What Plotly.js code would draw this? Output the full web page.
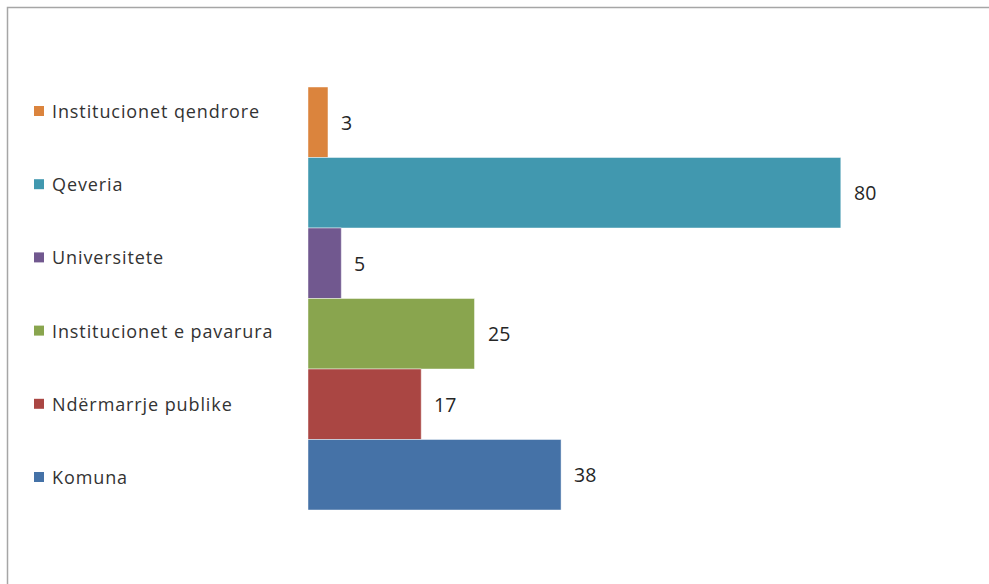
<!DOCTYPE html>
<html>
<head>
<meta charset="utf-8">
<script src="https://cdn.plot.ly/plotly-3.0.1.min.js"></script>
<style>html,body{margin:0;padding:0;background:#fff;}#chart{width:989px;height:584px;}</style>
</head>
<body>
<div id="chart"></div>
<script>
// Data (top to bottom as in the chart)
const categories = ["Institucionet qendrore", "Qeveria", "Universitete", "Institucionet e pavarura", "Ndërmarrje publike", "Komuna"];
const values = [3, 80, 5, 25, 17, 38];
const colors = ["#DB843D", "#4198AF", "#71588F", "#89A54E", "#AA4643", "#4572A7"];

const W = 989, H = 584;
const M = {l: 308, r: 15, t: 87, b: 74};
const plotW = W - M.l - M.r, plotH = H - M.t - M.b;
const px2x = p => (p - M.l) / plotW;
const py2y = p => (H - M.b - p) / plotH;

const trace = {
  type: 'bar',
  orientation: 'h',
  y: categories,
  x: values,
  marker: {color: colors, line: {color: 'rgba(255,255,255,0.45)', width: 1}},
  hoverinfo: 'x+y',
  showlegend: false
};

const annotations = [];
const shapes = [];

// value labels
categories.forEach((c, i) => {
  annotations.push({
    x: values[i], y: c, xref: 'x', yref: 'y',
    text: String(values[i]), showarrow: false,
    xanchor: 'left', yanchor: 'middle', xshift: 11,
    font: {family: 'Open Sans, sans-serif', size: 19.5, color: '#262626'}
  });
});

// legend
categories.forEach((c, i) => {
  const cy = 111 + i * 73.2;
  annotations.push({
    x: px2x(50), y: py2y(cy), xref: 'paper', yref: 'paper',
    text: '<span style="letter-spacing:0.9px">' + c + '</span>', showarrow: false,
    xanchor: 'left', yanchor: 'middle',
    font: {family: 'Open Sans, sans-serif', size: 18, color: '#333333'}
  });
  shapes.push({
    type: 'rect', xref: 'paper', yref: 'paper',
    x0: px2x(34), x1: px2x(44), y0: py2y(cy + 5), y1: py2y(cy - 5),
    fillcolor: colors[i], line: {width: 0}
  });
});

// outer border
shapes.push({
  type: 'rect', xref: 'paper', yref: 'paper',
  x0: px2x(7.5), x1: px2x(1000), y0: py2y(600), y1: py2y(7.5),
  fillcolor: 'rgba(0,0,0,0)', line: {color: '#a6a6a6', width: 1.5}
});

const layout = {
  width: W, height: H,
  margin: M,
  paper_bgcolor: '#ffffff', plot_bgcolor: '#ffffff',
  bargap: 0,
  showlegend: false,
  xaxis: {range: [0, 100], visible: false, fixedrange: true},
  yaxis: {type: 'category', autorange: 'reversed', visible: false, fixedrange: true},
  annotations: annotations,
  shapes: shapes,
  font: {family: 'Open Sans, sans-serif'}
};

Plotly.newPlot('chart', [trace], layout, {displayModeBar: false, staticPlot: true});
</script>
</body>
</html>
